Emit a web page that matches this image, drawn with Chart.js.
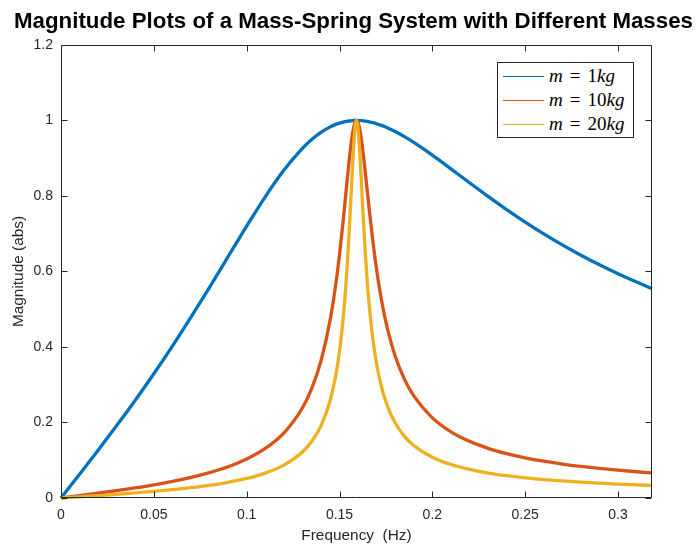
<!DOCTYPE html>
<html>
<head>
<meta charset="utf-8">
<script src="https://cdn.jsdelivr.net/npm/chart.js@4/dist/chart.umd.min.js"></script>
<style>
  html, body { margin: 0; padding: 0; background: #fff; }
  #wrap { position: relative; width: 696px; height: 545px; }
  #legend {
    position: absolute; left: 497px; top: 62px; width: 135px; height: 74px;
    border: 1px solid #262626; background: #fff;
    font-family: "Liberation Serif", "Times New Roman", serif; font-size: 19px; color: #000;
  }
  #legend .row { position: absolute; left: 0; height: 24px; display: flex; align-items: center; white-space: nowrap; }
  #legend .swatch { display: inline-block; width: 41px; height: 0; border-top: 1.5px solid; margin: 0 5px 0 5px; }
  #legend .eq { margin: 0 7px; }
</style>
</head>
<body>
<div id="wrap">
  <canvas id="chart" width="696" height="545"></canvas>
  <div id="legend"></div>
</div>
<script>
// Frequency samples (Hz), denser around the resonance at ~0.159 Hz
const freqHz = [0, 0.01, 0.02, 0.03, 0.04, 0.05, 0.06, 0.07, 0.08, 0.09,
  0.10, 0.11, 0.12, 0.13, 0.135, 0.14, 0.145, 0.148, 0.15, 0.152,
  0.153, 0.154, 0.155, 0.156, 0.157, 0.158, 0.15915, 0.16, 0.161, 0.162,
  0.163, 0.164, 0.165, 0.166, 0.168, 0.17, 0.173, 0.176, 0.18, 0.185,
  0.19, 0.2, 0.21, 0.22, 0.23, 0.24, 0.25, 0.26, 0.27, 0.28,
  0.29, 0.3, 0.31, 0.3183];

// Magnitude (abs) for each mass
const magM1 = [0, 0.0630, 0.1267, 0.1918, 0.2591, 0.3291, 0.4023, 0.4788, 0.5581, 0.6393,
  0.7202, 0.7978, 0.8679, 0.9261, 0.9494, 0.9685, 0.9830, 0.9896, 0.9931, 0.9958,
  0.9969, 0.9978, 0.9986, 0.9992, 0.9996, 0.9999, 1.0, 0.9999, 0.9997, 0.9994,
  0.9989, 0.9982, 0.9974, 0.9965, 0.9942, 0.9914, 0.9863, 0.9803, 0.9709, 0.9573,
  0.9420, 0.9082, 0.8719, 0.8351, 0.7988, 0.7639, 0.7308, 0.6995, 0.6703, 0.6431,
  0.6177, 0.5940, 0.5719, 0.5547];

const magM10 = [0, 0.0063, 0.0128, 0.0195, 0.0268, 0.0348, 0.0439, 0.0545, 0.0671, 0.0828,
  0.1033, 0.1312, 0.1721, 0.2384, 0.2895, 0.3624, 0.4724, 0.5665, 0.6448, 0.7358,
  0.7851, 0.8351, 0.8839, 0.9283, 0.9648, 0.9896, 1.0, 0.9944, 0.9745, 0.9426,
  0.9024, 0.8575, 0.8110, 0.7648, 0.6787, 0.6041, 0.5137, 0.4445, 0.3756, 0.3143,
  0.2703, 0.2121, 0.1753, 0.1501, 0.1316, 0.1176, 0.1064, 0.0974, 0.0900, 0.0837,
  0.0783, 0.0736, 0.0695, 0.0665];

const magM20 = [0, 0.0032, 0.0064, 0.0098, 0.0134, 0.0174, 0.0220, 0.0273, 0.0336, 0.0415,
  0.0518, 0.0660, 0.0870, 0.1218, 0.1495, 0.1909, 0.2589, 0.3251, 0.3886, 0.4774,
  0.5353, 0.6047, 0.6868, 0.7805, 0.8779, 0.9601, 1.0, 0.9783, 0.9081, 0.8158,
  0.7232, 0.6403, 0.5696, 0.5104, 0.4194, 0.3544, 0.2868, 0.2408, 0.1986, 0.1633,
  0.1390, 0.1079, 0.0887, 0.0757, 0.0662, 0.0591, 0.0534, 0.0489, 0.0451, 0.0419,
  0.0392, 0.0369, 0.0348, 0.0333];

const masses = [1, 10, 20];
const seriesColors = ['#0072BD', '#D95319', '#EDB120'];
const xTicks = [0, 0.05, 0.1, 0.15, 0.2, 0.25, 0.3];
const yTicks = [0, 0.2, 0.4, 0.6, 0.8, 1, 1.2];
const X_MAX = 0.3183;

const AXIS_COLOR = '#262626';
const SANS = '"Liberation Sans", Arial, Helvetica, sans-serif';

const toPoints = vals => freqHz.map((f, i) => ({ x: f, y: vals[i] }));
const allMags = [magM1, magM10, magM20];

const datasets = allMags.map((vals, i) => ({
  label: 'm = ' + masses[i] + 'kg',
  data: toPoints(vals),
  borderColor: seriesColors[i],
  backgroundColor: seriesColors[i],
  borderWidth: 3.3,
  pointRadius: 0,
  fill: false,
  cubicInterpolationMode: 'monotone',
  clip: false,
  order: allMags.length - i   // later masses drawn on top
}));

// Box around the plot with inward tick marks on all four sides
const framePlugin = {
  id: 'frame',
  afterDatasetsDraw(chart) {
    const { ctx, chartArea: a, scales } = chart;
    const L = Math.round(a.left) + 0.5, R = Math.round(a.right) - 0.5;
    const T = Math.round(a.top) + 0.5, B = Math.round(a.bottom) - 0.5;
    const len = 6;
    ctx.save();
    ctx.strokeStyle = AXIS_COLOR;
    ctx.lineWidth = 1;
    ctx.beginPath();
    ctx.rect(L, T, R - L, B - T);
    scales.x.ticks.forEach(t => {
      const px = Math.round(scales.x.getPixelForValue(t.value)) + 0.5;
      ctx.moveTo(px, B); ctx.lineTo(px, B - len);
      ctx.moveTo(px, T); ctx.lineTo(px, T + len);
    });
    scales.y.ticks.forEach(t => {
      const py = Math.round(scales.y.getPixelForValue(t.value)) + 0.5;
      ctx.moveTo(L, py); ctx.lineTo(L + len, py);
      ctx.moveTo(R, py); ctx.lineTo(R - len, py);
    });
    ctx.stroke();
    ctx.restore();
  }
};

const chart = new Chart(document.getElementById('chart'), {
  type: 'line',
  data: { datasets },
  options: {
    responsive: false,
    animation: false,
    events: [],
    layout: { padding: { left: 11, right: 0, top: 0, bottom: 0 } },
    plugins: {
      legend: { display: false },
      tooltip: { enabled: false },
      title: {
        display: true,
        text: 'Magnitude Plots of a Mass-Spring System with Different Masses',
        color: '#000',
        font: { family: SANS, size: 22.3, weight: 'bold', lineHeight: 1.2 },
        padding: { top: 8.6, bottom: 9.6 }
      }
    },
    scales: {
      x: {
        type: 'linear',
        min: 0,
        max: X_MAX,
        afterBuildTicks: s => { s.ticks = xTicks.map(v => ({ value: v })); },
        afterFit: s => { s.height = 47; },
        grid: { display: false, drawTicks: false },
        border: { display: false },
        ticks: {
          padding: 9,
          color: AXIS_COLOR,
          font: { family: SANS, size: 14 },
          maxRotation: 0,
          callback: v => String(Math.round(v * 1000) / 1000)
        },
        title: {
          display: true,
          text: 'Frequency  (Hz)',
          color: AXIS_COLOR,
          font: { family: SANS, size: 15.4, lineHeight: 1.2 },
          padding: { top: 1, bottom: 0 }
        }
      },
      y: {
        type: 'linear',
        min: 0,
        max: 1.2,
        afterBuildTicks: s => { s.ticks = yTicks.map(v => ({ value: v })); },
        afterFit: s => { s.width = 50; },
        grid: { display: false, drawTicks: false },
        border: { display: false },
        ticks: {
          padding: 8,
          color: AXIS_COLOR,
          font: { family: SANS, size: 14 },
          callback: v => String(Math.round(v * 100) / 100)
        },
        title: {
          display: true,
          text: 'Magnitude (abs)',
          color: AXIS_COLOR,
          font: { family: SANS, size: 15.4, lineHeight: 1 },
          padding: { top: 0, bottom: 0 }
        }
      },
      yRight: {
        type: 'linear',
        position: 'right',
        min: 0,
        max: 1.2,
        afterFit: s => { s.width = 44; },
        grid: { display: false, drawTicks: false },
        border: { display: false },
        ticks: { display: false }
      }
    }
  },
  plugins: [framePlugin]
});

// Legend: line sample followed by the mass label
const legendEl = document.getElementById('legend');
masses.forEach((m, i) => {
  const row = document.createElement('div');
  row.className = 'row';
  row.style.top = (1 + i * 24) + 'px';
  row.innerHTML = '<span class="swatch" style="border-color:' + seriesColors[i] + '"></span>' +
    '<i>m</i><span class="eq">=</span>' + m + '<i>kg</i>';
  legendEl.appendChild(row);
});
</script>
</body>
</html>
